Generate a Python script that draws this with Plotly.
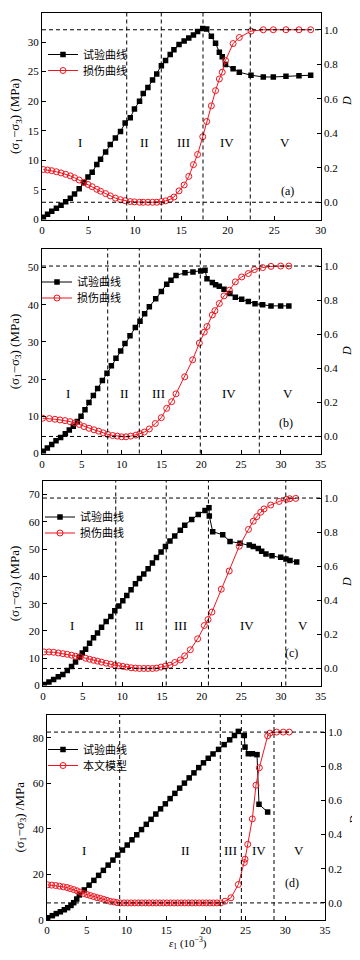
import plotly.graph_objects as go

# ---------------- data ----------------
# panel (a)
xa = [0.15,0.6,1.05,1.55,2.05,2.55,3.05,3.5,4.0,4.5,4.95,5.4,5.9,6.3,6.85,7.35,7.9,8.45,8.95,9.5,
      9.95,10.5,10.9,11.4,11.9,12.35,12.85,13.3,13.8,14.2,14.75,15.3,15.8,16.3,16.75,17.3,17.73,18.23,
      18.68,19.09,19.4,19.75,20.57,21.24,22.5,23.82,24.9,26.26,27.66,28.92]
sa = [0.4,0.9,1.4,1.9,2.4,3.0,3.6,4.3,5.2,6.2,7.2,8.0,9.3,10.2,11.4,12.7,13.8,14.9,16.3,17.2,
      18.7,20.0,21.3,22.3,23.6,24.6,26.0,26.9,27.9,28.7,29.6,30.2,30.7,31.2,31.8,32.3,32.2,31.0,
      29.8,28.3,27.5,26.2,25.5,24.9,24.4,24.1,24.1,24.2,24.3,24.4]
da = [0.19,0.187,0.183,0.177,0.17,0.162,0.153,0.142,0.129,0.116,0.103,0.09,0.075,0.064,0.05,0.037,
      0.024,0.015,0.009,0.004,0.002,0.0,0.0,0.0,0.0,0.0,0.004,0.008,0.017,0.03,0.066,0.10,0.15,0.218,
      0.277,0.38,0.468,0.559,0.647,0.715,0.754,0.822,0.92,0.955,0.992,1.0,1.0,1.0,1.0,1.0]

# panel (b)
xb_s = [0.17,0.67,1.22,1.76,2.34,2.93,3.43,3.93,4.44,4.9,5.4,5.9,6.45,6.99,7.58,8.16,8.71,9.29,9.88,
        10.42,11.05,11.72,12.31,12.89,13.48,14.28,14.99,15.66,16.2,16.83,17.96,18.96,19.93,20.47,20.72,
        21.39,21.8,22.27,22.86,23.6,24.28,25.08,25.91,26.75,27.71,28.76,29.97,31.0]
sb = [0.6,1.5,2.4,3.4,4.3,5.3,6.3,7.3,8.6,10.0,11.8,13.7,15.6,17.5,19.6,21.6,23.6,25.6,27.6,
      29.6,31.7,33.9,35.6,37.6,39.5,41.6,43.6,45.5,46.6,47.9,48.6,48.8,49.1,49.3,47.0,
      46.0,45.4,45.0,44.2,43.0,42.0,41.5,40.9,40.3,40.0,39.7,39.7,39.7]
xb_d = [0.08,0.92,1.63,2.26,2.89,3.52,4.14,4.69,5.27,5.9,6.53,7.12,7.7,8.25,8.87,9.46,10.0,10.55,11.14,
        11.8,12.3,12.85,13.48,14.23,14.98,15.66,16.28,16.83,17.92,18.92,19.76,20.38,20.72,21.39,21.72,
        22.27,22.86,23.53,24.28,25.08,25.91,26.67,27.71,28.76,29.97,31.0]
db = [0.107,0.105,0.101,0.097,0.093,0.087,0.080,0.070,0.058,0.048,0.039,0.031,0.021,0.012,0.006,0.002,
      -0.002,-0.002,0.002,0.008,0.016,0.026,0.044,0.076,0.11,0.165,0.204,0.25,0.35,0.45,0.548,0.612,0.645,
      0.713,0.738,0.78,0.825,0.858,0.907,0.936,0.956,0.979,0.991,0.998,1.0,1.0]

# panel (c)
xc_s = [0.17,0.75,1.34,1.93,2.5,3.06,3.6,4.1,4.6,4.95,5.37,5.87,6.37,6.87,7.38,7.96,8.55,9.05,9.56,10.06,
        10.56,11.1,11.65,12.16,12.7,13.25,13.79,14.3,14.88,15.43,16.0,16.6,17.31,17.86,18.74,19.57,20.42,
        20.92,20.96,21.39,22.65,23.57,24.83,26.0,26.5,27.13,27.56,28.1,28.86,29.96,30.62,31.13,31.97]
sc = [0.4,1.3,2.2,3.2,4.0,5.5,7.0,8.6,10.4,11.9,13.3,15.5,17.5,19.3,21.4,23.5,25.3,27.4,29.2,31.1,
      33.0,35.1,37.3,39.2,40.9,42.8,44.9,46.9,49.0,51.0,53.0,54.8,56.9,58.8,60.9,62.7,64.2,
      65.2,62.2,56.4,55.3,52.8,52.2,51.5,51.0,50.2,49.2,48.2,47.6,47.0,46.4,45.8,45.3]
xc_d = [0.13,0.75,1.34,1.93,2.5,3.06,3.6,4.1,4.6,5.37,5.87,6.37,6.87,7.38,7.96,8.55,9.05,9.56,10.06,10.56,
        11.1,11.65,12.16,12.7,13.25,13.79,14.3,14.88,15.43,16.0,16.6,17.31,17.86,18.57,19.49,20.33,20.8,
        21.29,22.47,23.47,24.73,25.9,26.5,26.95,27.44,27.86,28.7,29.76,30.68,31.1,31.86]
dc = [0.097,0.097,0.095,0.091,0.087,0.083,0.078,0.072,0.068,0.060,0.054,0.048,0.043,0.037,0.031,0.025,
      0.019,0.016,0.012,0.008,0.004,0.002,0.0,0.0,0.0,0.0,0.002,0.008,0.014,0.019,0.035,0.05,0.074,0.11,
      0.174,0.252,0.287,0.331,0.465,0.572,0.717,0.816,0.864,0.891,0.917,0.936,0.959,0.98,0.992,0.996,0.998]

# panel (d)
xd_s = [0.08,0.67,1.17,1.68,2.18,2.6,3.02,3.36,3.74,4.07,4.7,5.3,5.9,6.5,7.1,7.7,8.3,8.9,9.5,10.1,
        10.7,11.3,11.9,12.5,13.1,13.7,14.3,14.9,15.5,16.1,16.7,17.3,17.9,18.5,19.1,19.7,20.3,20.9,21.6,
        22.3,23.0,23.6,24.09,24.84,24.93,25.35,25.85,26.44,26.69,27.78]
sd = [1.0,1.9,2.8,3.6,4.5,5.4,6.4,7.6,9.2,11.0,13.2,15.3,17.4,19.6,21.8,24.1,26.3,28.5,30.7,32.9,
      35.2,37.4,39.7,42.0,44.2,46.5,48.8,51.0,53.3,55.6,57.9,60.1,62.4,64.6,66.9,69.0,71.0,72.9,74.9,
      77.0,79.1,81.0,82.8,81.0,75.9,73.0,73.0,72.6,50.8,47.4]
xd_d = [0.08,0.59,1.09,1.59,2.05,2.52,2.94,3.36,3.78,4.2,4.62,5.04,5.46,5.88,6.3,6.71,7.14,7.55,7.97,8.4,
        8.81,9.23,9.7,10.15,10.6,11.05,11.5,11.95,12.4,12.85,13.3,13.75,14.2,14.65,15.1,15.55,16.0,16.45,
        16.9,17.35,17.8,18.25,18.7,19.15,19.6,20.05,20.5,20.95,21.4,21.85,22.41,23.16,24.09,24.84,24.93,
        25.27,25.85,26.31,26.73,27.78,28.07,28.91,29.75,30.5]
dd = [0.106,0.104,0.102,0.098,0.094,0.09,0.084,0.078,0.071,0.063,0.055,0.049,0.043,0.037,0.031,0.027,
      0.021,0.015,0.009,0.006,0.002,0.0,0.0,0.0,0.0,0.0,0.0,0.0,0.0,0.0,0.0,0.0,0.0,0.0,0.0,0.0,0.0,0.0,
      0.0,0.0,0.0,0.0,0.0,0.0,0.0,0.0,0.0,0.0,0.0,0.0,0.01,0.03,0.108,0.236,0.256,0.343,0.492,0.689,0.791,
      0.978,0.994,1.0,1.0,1.0]

stage_lines = {
    "a": [9.12, 12.84, 17.33, 22.42],
    "b": [8.25, 12.22, 19.88, 27.29],
    "c": [9.17, 15.53, 20.85, 30.6],
    "d": [9.15, 21.82, 24.47, 28.58],
}
stage_labels = ["I", "II", "III", "IV", "V"]
stage_label_x = {
    "a": [4.1, 11.0, 15.2, 19.9, 26.2],
    "b": [3.3, 10.4, 14.6, 23.5, 30.9],
    "c": [3.6, 12.2, 17.3, 25.7, 32.8],
    "d": [4.7, 17.4, 23.1, 26.7, 31.7],
}
stage_label_y = {"a": 13.1, "b": 16.1, "c": 22.0, "d": 30.7}
panel_tag = {"a": ("(a)", 26.4, 4.9), "b": ("(b)", 30.6, 8.2), "c": ("(c)", 31.3, 11.9), "d": ("(d)", 30.8, 16.3)}

legend_names = {
    "a": ["试验曲线", "损伤曲线"],
    "b": ["试验曲线", "损伤曲线"],
    "c": ["试验曲线", "损伤曲线"],
    "d": ["试验曲线", "本文模型"],
}
x_ranges = {"a": [0, 30], "b": [0, 35], "c": [0, 35], "d": [0, 35]}
y_ranges = {"a": [0, 35], "b": [0, 55], "c": [0, 75], "d": [0, 90]}
y_dticks = {"a": 5, "b": 10, "c": 10, "d": 20}
d_range = [-0.1, 1.1]
d_lines = [0.0, 1.0]

series = {
    "a": (xa, sa, xa, da),
    "b": (xb_s, sb, xb_d, db),
    "c": (xc_s, sc, xc_d, dc),
    "d": (xd_s, sd, xd_d, dd),
}

# ---------------- layout geometry (page pixels) ----------------
OFF = 8                     # default body margin of the html page
W, H = 360 - OFF, 960 - OFF  # figure size so that the page is exactly 360x960


def fx(p):
    return (p - OFF) / W


def fy(p):
    return 1 - (p - OFF) / H


boxes = {  # left, right, top, bottom (page px)
    "a": (42, 320.7, 12.5, 219.5),
    "b": (42, 320.7, 249, 453.5),
    "c": (43, 320.7, 481, 685.5),
    "d": (47, 325, 715, 920),
}
# (text-left x, row1 center y, row2 center y) page px
legend_pos = {"a": (83, 54, 70), "b": (77, 281.5, 297.5), "c": (80, 516.5, 532.5), "d": (83, 749, 765)}

SERIF = "Liberation Serif, Times New Roman, serif"
CJK = "Noto Sans CJK SC"
RED = "#f0141e"

fig = go.Figure()
layout = dict(
    template="none",
    width=W, height=H, margin=dict(l=0, r=0, t=0, b=0, pad=0), autosize=False,
    paper_bgcolor="white", plot_bgcolor="white",
    font=dict(family=SERIF, size=11, color="black"),
    showlegend=True,
)
shapes, annotations = [], []

for i, k in enumerate(["a", "b", "c", "d"]):
    L, R, T, B = boxes[k]
    xn = "x" if i == 0 else f"x{i+1}"
    yl = f"y{2*i+1}" if i > 0 else "y"
    yr = f"y{2*i+2}"
    xkey = "xaxis" if i == 0 else f"xaxis{i+1}"
    ylkey = "yaxis" if i == 0 else f"yaxis{2*i+1}"
    yrkey = f"yaxis{2*i+2}"
    lg1 = "legend" if i == 0 else f"legend{2*i+1}"
    lg2 = f"legend{2*i+2}"

    ax_common = dict(showline=True, linecolor="black", linewidth=1, ticks="inside", ticklen=4,
                     tickcolor="black", showgrid=False, zeroline=False, automargin=False,
                     tickfont=dict(family=SERIF, size=11, color="black"))
    layout[xkey] = dict(domain=[fx(L), fx(R)], range=x_ranges[k], dtick=5, tick0=0, anchor=yl,
                        mirror=True, **ax_common)
    layout[ylkey] = dict(domain=[fy(B), fy(T)], range=y_ranges[k], dtick=y_dticks[k], tick0=0,
                         anchor=xn, **ax_common)
    layout[yrkey] = dict(range=d_range, dtick=0.2, tick0=0, tickformat=".1f", overlaying=yl,
                         side="right", anchor=xn, **ax_common)

    xs, ys, xdd, ydd = series[k]
    fig.add_trace(go.Scatter(x=xs, y=ys, xaxis=xn, yaxis=yl, mode="lines+markers",
                             name=legend_names[k][0], legend=lg1,
                             line=dict(color="black", width=1),
                             marker=dict(symbol="square", size=5.5, color="black")))
    fig.add_trace(go.Scatter(x=xdd, y=ydd, xaxis=xn, yaxis=yr, mode="lines+markers",
                             name=legend_names[k][1], legend=lg2,
                             line=dict(color=RED, width=1),
                             marker=dict(symbol="circle-open", size=6, color=RED, line=dict(width=1))))

    tx0, r1, r2 = legend_pos[k]
    for lg, ry in ((lg1, r1), (lg2, r2)):
        layout[lg] = dict(x=fx(tx0 - 40), y=fy(ry - 14), xanchor="left", yanchor="top",
                          bgcolor="rgba(0,0,0,0)", borderwidth=0, itemwidth=30,
                          font=dict(family=CJK, size=11, color="black"))

    for v in stage_lines[k]:
        shapes.append(dict(type="line", xref=xn, yref=f"{yl} domain", x0=v, x1=v, y0=0, y1=1,
                           line=dict(color="black", width=1, dash="4px,3px")))
    for dv in d_lines:
        shapes.append(dict(type="line", xref=f"{xn} domain", yref=yr, x0=0, x1=1, y0=dv, y1=dv,
                           line=dict(color="black", width=1, dash="4px,3px")))

    for lab, sx in zip(stage_labels, stage_label_x[k]):
        annotations.append(dict(text=lab, x=sx, y=stage_label_y[k], xref=xn, yref=yl, showarrow=False,
                                font=dict(family=SERIF, size=13, color="black")))
    tag, tx, ty = panel_tag[k]
    annotations.append(dict(text=tag, x=tx, y=ty, xref=xn, yref=yl, showarrow=False,
                            font=dict(family=SERIF, size=12, color="black")))

    # axis titles
    ytitle = "(σ<sub>1</sub>−σ<sub>3</sub>) (MPa)" if k != "d" else "(σ<sub>1</sub>−σ<sub>3</sub>) /MPa"
    ytx = 15 if k != "d" else 20
    annotations.append(dict(text=ytitle, x=fx(ytx), y=fy((T + B) / 2), xref="paper", yref="paper",
                            showarrow=False, textangle=-90, xanchor="center", yanchor="middle",
                            font=dict(family=SERIF, size=13, color="black")))
    dty = {"a": 101, "b": 351, "c": 582, "d": 820}[k]
    dtx = {"a": 347, "b": 347, "c": 347, "d": 354}[k]
    annotations.append(dict(text="<i>D</i>", x=fx(dtx), y=fy(dty), xref="paper", yref="paper",
                            showarrow=False, textangle=-90, xanchor="center", yanchor="middle",
                            font=dict(family=SERIF, size=12, color="black")))

annotations.append(dict(text="<i>ε</i><sub>1</sub> (10<sup>−3</sup>)", x=fx(188), y=fy(953),
                        xref="paper", yref="paper", showarrow=False,
                        font=dict(family=SERIF, size=11, color="black")))

layout["shapes"] = shapes
layout["annotations"] = annotations
fig.update_layout(**layout)
fig.write_html("out.html")
